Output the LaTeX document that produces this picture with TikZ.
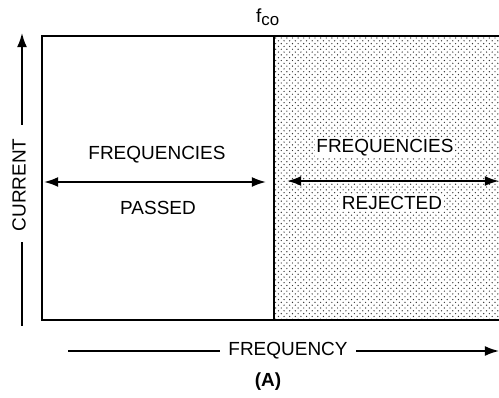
\documentclass[tikz,border=0pt]{standalone}
\usepackage{fontspec}
\setmainfont{Liberation Sans}
\usepackage{tikz}
\usetikzlibrary{positioning,calc}
\usetikzlibrary{arrows.meta,patterns}
\pgfdeclarepatternformonly{stipple}{\pgfqpoint{-1pt}{-1pt}}{\pgfqpoint{3pt}{3pt}}{\pgfqpoint{4pt}{4pt}}{%
  \pgfpathcircle{\pgfqpoint{0pt}{0pt}}{.5pt}%
  \pgfpathcircle{\pgfqpoint{2pt}{2pt}}{.5pt}%
  \pgfusepath{fill}}
\tikzset{
  frame/.style={draw=black,line width=1.4pt},
  band/.style={draw=black,line width=1.3pt},
  axis/.style={draw=black,line width=1.1pt},
  lab/.style={font=\fontsize{13.5}{15}\selectfont,inner sep=1pt},
  stop/.style={pattern=stipple,pattern color=black!80},
}
\tikzset{tip/.style={-{Latex[length=10pt,width=7pt]}}, tips/.style={{Latex[length=10pt,width=7pt]}-{Latex[length=10pt,width=7pt]}}}

\begin{document}
\begin{tikzpicture}[x=0.025cm,y=-0.025cm]
\useasboundingbox (0,0) rectangle (499,398);
\coordinate (tl) at (42,36);
\coordinate (bl) at (42,320);
\coordinate (tr) at (505,36);
\coordinate (br) at (505,320);
\coordinate (ct) at (274,36);
\coordinate (cb) at (274,320);
% rejected band
\fill[stop] (ct) rectangle (499,320);
\draw[frame] (tr) -- (tl) -- (bl) -- (br);
\draw[frame] (ct) -- (cb);
\node[lab] (fco) at (268,17) {f\textsubscript{\fontsize{12}{13}\selectfont co}};
% passed band
\coordinate (pa) at (44,182);
\coordinate (pb) at (266,182);
\draw[band,tips] (pa) -- (pb);
\node[lab] (pass1) at (157,155) {FREQUENCIES};
\node[lab] (pass2) at (158,208) {PASSED};
% rejected band
\coordinate (ra) at (287,181);
\coordinate (rb) at (499,181);
\draw[band,tips] (ra) -- (rb);
\node[lab,fill=white] (rej1) at (385,148) {FREQUENCIES};
\node[lab,fill=white] (rej2) at (392,203) {REJECTED};
% axes
\node[lab,rotate=90] (cur) at (19,185) {CURRENT};
\coordinate (ya) at (22,125);
\coordinate (yb) at (22,33);
\coordinate (yc) at (22,326);
\draw[axis,tip] (ya) -- (yb);
\draw[axis] (yc) -- ([yshift=-6pt]yc |- cur.west);
\node[lab] (freq) at (288,351) {FREQUENCY};
\coordinate (xa) at (68,351);
\coordinate (xb) at (499,351);
\draw[axis] (xa) -- ([xshift=-5pt]freq.west);
\draw[axis,tip] ([xshift=5pt]freq.east) -- (xb);
\node[lab,font=\fontsize{13.5}{15}\selectfont\bfseries] (cap) at (268,382) {(A)};
\end{tikzpicture}
\end{document}
